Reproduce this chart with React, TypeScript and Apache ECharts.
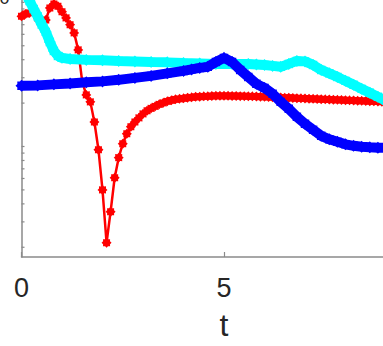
import React, { useEffect, useRef } from 'react';
import * as echarts from 'echarts';

// ---- data (t, value) ----
const redPts: [number, number][] = [
  [0.0, 0.80], [0.1, 0.83], [0.2, 0.845], [0.3, 0.86], [0.4, 0.78], [0.5, 0.71], [0.6, 0.755], [0.7, 0.915],
  [0.8, 0.975], [0.9, 0.94], [1.0, 0.86], [1.1, 0.78], [1.2, 0.70], [1.3, 0.614], [1.4, 0.468], [1.5, 0.281],
  [1.6, 0.228], [1.7, 0.204], [1.8, 0.148], [1.9, 0.095], [2.0, 0.050], [2.1, 0.0215], [2.2, 0.0353], [2.3, 0.0607],
  [2.4, 0.0837], [2.5, 0.1046], [2.6, 0.1225], [2.7, 0.137], [2.8, 0.148], [2.9, 0.158], [3.0, 0.1685], [3.1, 0.1768],
  [3.2, 0.1839], [3.3, 0.1899], [3.4, 0.1961], [3.5, 0.2008], [3.6, 0.2057], [3.7, 0.209], [3.8, 0.2124], [3.9, 0.2141],
  [4.0, 0.2158], [4.1, 0.2176], [4.2, 0.2193], [4.3, 0.2211], [4.4, 0.2211], [4.5, 0.2228], [4.6, 0.2228], [4.7, 0.224],
  [4.8, 0.2246], [4.9, 0.2246], [5.0, 0.2246], [5.1, 0.2246], [5.2, 0.224], [5.3, 0.224], [5.4, 0.2235], [5.5, 0.2235],
  [5.6, 0.2228], [5.7, 0.2228], [5.8, 0.2222], [5.9, 0.2216], [6.0, 0.2211], [6.1, 0.2205], [6.2, 0.2199], [6.3, 0.2193],
  [6.4, 0.2188], [6.5, 0.2182], [6.6, 0.2176], [6.7, 0.217], [6.8, 0.2164], [6.9, 0.2158], [7.0, 0.2152], [7.1, 0.2147],
  [7.2, 0.2141], [7.3, 0.2135], [7.4, 0.213], [7.5, 0.2124], [7.6, 0.2118], [7.7, 0.2113], [7.8, 0.2107], [7.9, 0.2101],
  [8.0, 0.2096], [8.1, 0.209], [8.2, 0.2085], [8.3, 0.2079], [8.4, 0.2073], [8.5, 0.2068], [8.6, 0.2062], [8.7, 0.2057],
  [8.8, 0.2052], [8.9, 0.2046], [9.0, 0.2041], [9.1, 0.2035], [9.2, 0.203],
];

const bluePts: [number, number][] = [
  [0, 0.264], [0.4, 0.2655], [0.8, 0.2698], [1.2, 0.274], [1.6, 0.2786], [2.0, 0.283], [2.4, 0.29], [2.8, 0.2993],
  [3.2, 0.309], [3.6, 0.3217], [4.0, 0.3346], [4.2, 0.3428], [4.4, 0.351], [4.6, 0.357], [4.8, 0.386], [5.0, 0.412],
  [5.2, 0.386], [5.4, 0.34], [5.6, 0.304], [5.8, 0.272], [6.0, 0.255], [6.2, 0.232], [6.4, 0.204], [6.6, 0.1825],
  [6.8, 0.1606], [7.0, 0.1437], [7.2, 0.1305], [7.4, 0.1186], [7.6, 0.1122], [7.8, 0.1078], [8.0, 0.1035], [8.2, 0.1011],
  [8.4, 0.0995], [8.6, 0.0987], [8.8, 0.098], [9.0, 0.098], [9.2, 0.098],
];

const cyanPts: [number, number][] = [
  [0.0, 1.30], [0.1, 1.152], [0.2, 1.022], [0.3, 0.90], [0.4, 0.799], [0.5, 0.703], [0.6, 0.624], [0.7, 0.531],
  [0.8, 0.4605], [0.9, 0.425], [1.0, 0.412], [1.2, 0.405], [1.6, 0.399], [2.0, 0.396], [2.4, 0.3926], [2.8, 0.3895],
  [3.2, 0.386], [3.6, 0.3834], [4.0, 0.38], [4.4, 0.3772], [4.8, 0.3742], [5.2, 0.3742], [5.6, 0.3742], [5.8, 0.3712],
  [6.0, 0.368], [6.2, 0.3625], [6.4, 0.357], [6.6, 0.3742], [6.8, 0.3926], [7.0, 0.3895], [7.2, 0.368], [7.4, 0.34],
  [7.6, 0.3217], [7.8, 0.304], [8.0, 0.2853], [8.2, 0.268], [8.4, 0.2511], [8.6, 0.236], [8.8, 0.221], [9.0, 0.2073],
  [9.2, 0.1945],
];

const xTickStep = 5;
const xTickLabelsShown = [0, 5];
const yMin = 0.01712;
const yMax = 2;
const yMinorTicks = [0.02, 0.03, 0.04, 0.05, 0.06, 0.07, 0.08, 0.09, 0.1, 0.2, 0.3, 0.4, 0.5, 0.6, 0.7, 0.8, 0.9, 1, 2];
const xName = 't';

const STAR =
  'path://M20 10 L16.93 12.87 L17.07 17.07 L12.87 16.93 L10 20 L7.13 16.93 L2.93 17.07 L3.07 12.87 L0 10 L3.07 7.13 L2.93 2.93 L7.13 3.07 L10 0 L12.87 3.07 L17.07 2.93 L16.93 7.13 Z';

const FONT = '"Liberation Sans", Arial, Helvetica, sans-serif';
const AXIS_COLOR = '#8a8a8a';
const TEXT_COLOR = '#262626';

const OX = 40;
const OY = 60;
const W = 500;
const H = 406;

export default function App() {
  const ref = useRef<HTMLDivElement>(null);
  useEffect(() => {
    const chart = echarts.init(ref.current!, null, { renderer: 'svg' });
    const option: any = {
      animation: false,
      backgroundColor: '#ffffff',
      grid: { left: 61.5, right: 33.5, top: 18.96, bottom: 88.7, containLabel: false },
      xAxis: {
        type: 'value',
        min: 0,
        max: 10,
        interval: xTickStep,
        axisLine: { show: true, onZero: false, lineStyle: { color: AXIS_COLOR, width: 1.5 } },
        axisTick: { show: true, inside: true, length: 5, lineStyle: { color: AXIS_COLOR, width: 1.2 } },
        axisLabel: {
          fontSize: 27,
          color: TEXT_COLOR,
          fontFamily: FONT,
          margin: 17,
          formatter: (v: number) => (xTickLabelsShown.indexOf(v) >= 0 ? String(v) : ''),
        },
        splitLine: { show: false },
        name: xName,
        nameLocation: 'middle',
        nameGap: 52,
        nameTextStyle: { fontSize: 32, color: TEXT_COLOR, fontFamily: FONT },
      },
      yAxis: {
        type: 'log',
        logBase: 10,
        min: yMin,
        max: yMax,
        axisLine: { show: true, lineStyle: { color: AXIS_COLOR, width: 1.5 } },
        axisTick: { show: false },
        minorTick: { show: false },
        splitLine: { show: false },
        axisLabel: {
          margin: 12,
          formatter: (v: number) => (Math.abs(v - 1) < 1e-6 ? '{b|10}{s|0}' : ''),
          rich: {
            b: { fontSize: 27, color: TEXT_COLOR, fontFamily: FONT },
            s: { fontSize: 18, color: TEXT_COLOR, fontFamily: FONT, verticalAlign: 'top' },
          },
        },
      },
      series: [
        {
          type: 'custom',
          silent: true,
          z: 1,
          data: yMinorTicks.map((v) => [0, v]),
          renderItem: (params: any, api: any) => {
            const p = api.coord([api.value(0), api.value(1)]);
            return {
              type: 'line',
              shape: { x1: p[0], y1: p[1], x2: p[0] + 3, y2: p[1] },
              style: { stroke: AXIS_COLOR, lineWidth: 1.2 },
            };
          },
        },
        {
          type: 'line',
          name: 'red',
          z: 3,
          data: redPts,
          symbol: STAR,
          symbolSize: 10,
          showAllSymbol: true,
          lineStyle: { color: '#ff0000', width: 2.5 },
          itemStyle: { color: '#ff0000' },
        },
        {
          type: 'line',
          name: 'cyan',
          z: 4,
          data: cyanPts,
          symbol: STAR,
          symbolSize: 12,
          showAllSymbol: true,
          lineStyle: { color: '#00ffff', width: 10 },
          itemStyle: { color: '#00ffff' },
        },
        {
          type: 'line',
          name: 'blue',
          z: 5,
          data: bluePts,
          symbol: STAR,
          symbolSize: 12,
          showAllSymbol: true,
          lineStyle: { color: '#0000ff', width: 10 },
          itemStyle: { color: '#0000ff' },
        },
      ],
    };
    chart.setOption(option);
    return () => chart.dispose();
  }, []);
  return (
    <div
      style={{
        position: 'fixed',
        left: 0,
        top: 0,
        width: 383,
        height: 346,
        overflow: 'hidden',
        background: '#ffffff',
      }}
    >
      <div ref={ref} style={{ position: 'absolute', left: -OX, top: -OY, width: W, height: H }} />
    </div>
  );
}
